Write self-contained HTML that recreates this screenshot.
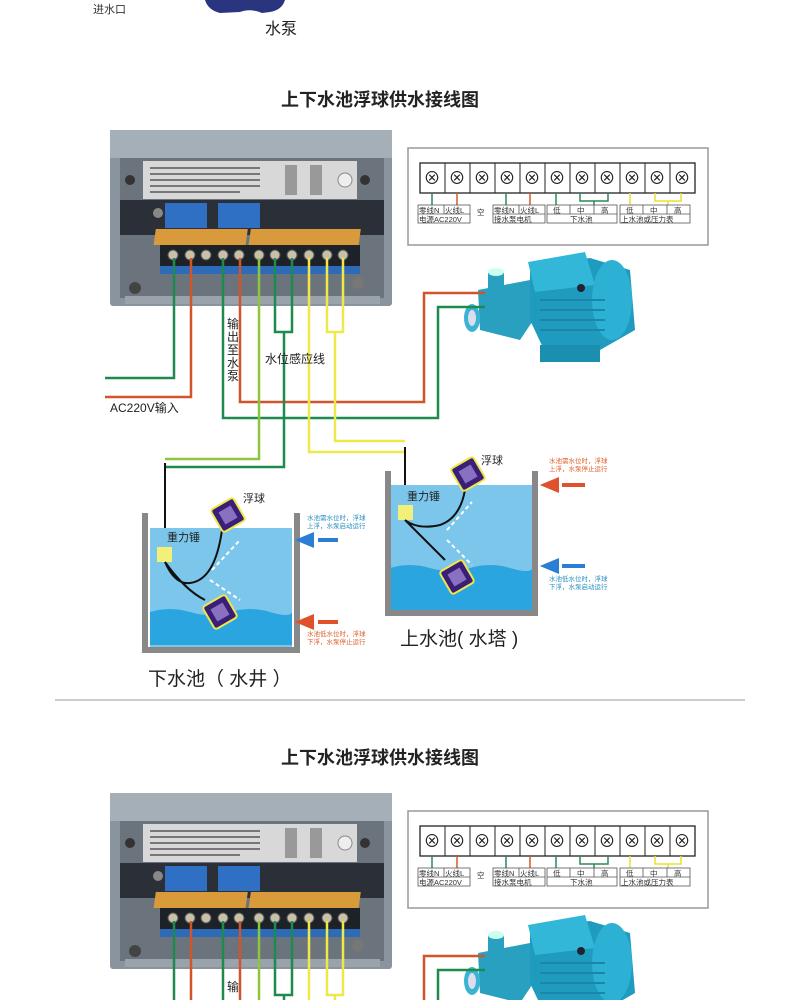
<!DOCTYPE html>
<html><head><meta charset="utf-8"><style>
html,body{margin:0;padding:0;background:#fff;width:800px;height:1000px;overflow:hidden}
svg{display:block;overflow:hidden}
text{font-family:"Liberation Sans","Noto Sans CJK SC",sans-serif}
</style></head><body>
<svg width="800" height="1000" viewBox="0 0 800 1000" xmlns="http://www.w3.org/2000/svg">
<rect width="800" height="1000" fill="#fff"/>
<path d="M205 0 H285 Q282 10 270 12 L262 13 Q250 8 240 12 L220 13 Q208 10 205 0Z" fill="#2a3580"/>
<text x="93" y="13" font-size="11" fill="#333">进水口</text>
<text x="265" y="34" font-size="16" fill="#222">水泵</text>

<defs>
<g id="ctrl">
  <rect x="110" y="130" width="282" height="176" fill="#8a949e" rx="3"/>
  <rect x="110" y="130" width="282" height="28" fill="#a5afb8"/>
  <rect x="120" y="158" width="264" height="140" fill="#6b747c"/>
  <rect x="143" y="161" width="214" height="38" fill="#d8d8d8"/>
  <g fill="#777">
  <rect x="150" y="167" width="110" height="2"/><rect x="150" y="173" width="110" height="2"/><rect x="150" y="179" width="110" height="2"/><rect x="150" y="185" width="110" height="2"/><rect x="150" y="191" width="90" height="2"/>
  </g>
  <rect x="285" y="165" width="12" height="30" fill="#999"/><rect x="310" y="165" width="12" height="30" fill="#999"/>
  <circle cx="345" cy="180" r="7" fill="#eee" stroke="#888"/>
  <rect x="120" y="200" width="264" height="35" fill="#2b3038"/>
  <rect x="165" y="203" width="42" height="25" fill="#2f6fc4"/><rect x="218" y="203" width="42" height="25" fill="#2f6fc4"/>
  <circle cx="158" cy="213" r="5" fill="#888"/>
  <rect x="158" y="229" width="92" height="16" fill="#d89a3a" transform="skewX(-8) translate(30 0)"/>
  <rect x="253" y="229" width="110" height="16" fill="#d89a3a" transform="skewX(-8) translate(30 0)"/>
  <rect x="160" y="245" width="200" height="22" fill="#1d2228"/>
  <g fill="#c9c0a8" stroke="#555" stroke-width="1">
   <circle cx="173" cy="255" r="5"/><circle cx="190" cy="255" r="5"/><circle cx="206" cy="255" r="5"/><circle cx="223" cy="255" r="5"/><circle cx="239" cy="255" r="5"/><circle cx="259" cy="255" r="5"/><circle cx="275" cy="255" r="5"/><circle cx="292" cy="255" r="5"/><circle cx="309" cy="255" r="5"/><circle cx="327" cy="255" r="5"/><circle cx="343" cy="255" r="5"/>
  </g>
  <rect x="160" y="266" width="200" height="8" fill="#2d6ab8"/>
  <circle cx="130" cy="180" r="5" fill="#333"/><circle cx="365" cy="180" r="5" fill="#333"/>
  <circle cx="135" cy="288" r="6" fill="#444"/><circle cx="358" cy="283" r="6" fill="#777"/>
  <rect x="125" y="296" width="255" height="8" fill="#9aa3ab"/>
  <rect x="408" y="148" width="300" height="97" fill="#fff" stroke="#999" stroke-width="1.5"/>
  <rect x="420" y="163" width="275" height="30" fill="#fff" stroke="#222" stroke-width="1.3"/>
  <path d="M445 163V193M470 163V193M495 163V193M520 163V193M545 163V193M570 163V193M595 163V193M620 163V193M645 163V193M670 163V193" stroke="#222" stroke-width="1" fill="none"/>
  <g font-size="17" fill="#222" text-anchor="middle">
   <text x="432" y="184">⊗</text><text x="457" y="184">⊗</text><text x="482" y="184">⊗</text><text x="507" y="184">⊗</text><text x="532" y="184">⊗</text><text x="557" y="184">⊗</text><text x="582" y="184">⊗</text><text x="607" y="184">⊗</text><text x="632" y="184">⊗</text><text x="657" y="184">⊗</text><text x="682" y="184">⊗</text>
  </g>
  <g stroke-width="1.5" fill="none">
   <path d="M432 193V205M506 193V205M556 193V205" stroke="#2a8a55"/>
   <path d="M457 193V205M530 193V205" stroke="#d05a2a"/>
   <path d="M580 193V201H608V193M594 201V205" stroke="#2a8a55"/>
   <path d="M630 193V205" stroke="#e8e030"/>
   <path d="M655 193V201H681V193M668 201V205" stroke="#e8e030"/>
  </g>
  <g fill="none" stroke="#555" stroke-width="0.8">
   <rect x="418" y="205" width="52" height="18"/><path d="M418 214H470M444 205V214"/>
   <rect x="493" y="205" width="52" height="18"/><path d="M493 214H545M519 205V214"/>
   <rect x="547" y="205" width="70" height="18"/><path d="M547 214H617M570 205V214M594 205V214"/>
   <rect x="620" y="205" width="70" height="18"/><path d="M620 214H690M643 205V214M667 205V214"/>
  </g>
  <g font-size="7.5" fill="#333">
   <text x="419" y="213">零线N</text><text x="445" y="213">火线L</text><text x="419" y="222">电源AC220V</text>
   <text x="477" y="215">空</text>
   <text x="494" y="213">零线N</text><text x="520" y="213">火线L</text><text x="494" y="222">接水泵电机</text>
   <text x="553" y="213">低</text><text x="577" y="213">中</text><text x="601" y="213">高</text><text x="570" y="222">下水池</text>
   <text x="626" y="213">低</text><text x="650" y="213">中</text><text x="674" y="213">高</text><text x="621" y="222">上水池或压力表</text>
  </g>
  <g>
   <path d="M478 290 L530 280 L540 310 L520 340 L480 330Z" fill="#2aa0c0"/>
   <ellipse cx="472" cy="318" rx="8" ry="14" fill="#3bb4d4"/><ellipse cx="472" cy="318" rx="4" ry="8" fill="#dde"/>
   <rect x="488" y="272" width="16" height="20" fill="#2aa0c0"/><ellipse cx="496" cy="272" rx="8" ry="4" fill="#cfe"/>
   <path d="M530 265 L590 258 L630 270 L635 330 L600 350 L545 352 L530 320Z" fill="#1f9bc0"/>
   <path d="M528 262 L585 252 L595 285 L535 292Z" fill="#33b7d8"/>
   <ellipse cx="612" cy="300" rx="20" ry="40" fill="#2cb0d4"/>
   <path d="M540 345 L600 345 L600 362 L540 362Z" fill="#1b8fb0"/>
   <circle cx="581" cy="288" r="4" fill="#223"/>
   <path d="M540 300H605M540 310H605M540 320H605M540 330H605" stroke="#1a86a8" stroke-width="2"/>
  </g>
</g>
</defs>

<text x="380" y="106" font-size="18" font-weight="bold" fill="#222" text-anchor="middle">上下水池浮球供水接线图</text>
<use href="#ctrl"/>
<g fill="none" stroke-width="2.5">
 <path d="M174 258V378H105" stroke="#1f8a50"/>
 <path d="M191 258V397H105" stroke="#d2542a"/>
 <path d="M223 258V418H438V307H485" stroke="#1f8a50"/>
 <path d="M240 258V402H424V293H485" stroke="#d2542a"/>
 <path d="M259 258V459H165" stroke="#8cc63e"/>
 <path d="M275 258V332H292V258M284 332V467H165" stroke="#1f8a50"/>
 <path d="M309 258V452H405" stroke="#eee84a"/>
 <path d="M327 258V332H343V258M335 332V441H405" stroke="#eee84a"/>
</g>
<path d="M165 463V548M405 447V510" stroke="#111" stroke-width="2" fill="none"/>
<text x="110" y="412" font-size="12" fill="#222">AC220V输入</text>
<g font-size="12" fill="#222"><text x="227" y="328">输</text><text x="227" y="341">出</text><text x="227" y="354">至</text><text x="227" y="367">水</text><text x="227" y="380">泵</text></g>
<text x="265" y="363" font-size="12" fill="#222">水位感应线</text>

<rect x="150" y="528" width="142" height="120" fill="#7cc6ec"/>
<path d="M150 612 Q170 606 190 612 T230 612 T270 612 T292 612 V645 H150Z" fill="#2aa5e0"/>
<path d="M145 513V650H297V513" fill="none" stroke="#888" stroke-width="6"/>
<rect x="157" y="547" width="15" height="15" fill="#f3f07a"/>
<path d="M165 562 Q175 585 190 583 Q215 580 222 530 M165 562 Q185 590 205 600" stroke="#111" stroke-width="2" fill="none"/>
<g transform="rotate(-30 228 515)"><rect x="215" y="502" width="26" height="26" rx="3" fill="#3a1f78" stroke="#f0e84a" stroke-width="2"/><rect x="221" y="508" width="14" height="14" fill="#8a70c0"/></g>
<g transform="rotate(-30 220 612)"><rect x="207" y="599" width="26" height="26" rx="3" fill="#3a1f78" stroke="#f0e84a" stroke-width="2"/><rect x="213" y="605" width="14" height="14" fill="#8a70c0"/></g>
<path d="M212 570L240 540M210 580L240 600" stroke="#fff" stroke-width="2" stroke-dasharray="4 3"/>
<text x="243" y="502" font-size="11" fill="#222">浮球</text>
<text x="167" y="541" font-size="11" fill="#222">重力锤</text>
<path d="M318 540H338M300 540L312 535V545Z" stroke="#2a7fd4" stroke-width="4" fill="#2a7fd4"/>
<path d="M318 622H338M300 622L312 617V627Z" stroke="#e0502a" stroke-width="4" fill="#e0502a"/>
<text x="307" y="520" font-size="6.5" fill="#2a90c0">水池需水位时，浮球</text><text x="307" y="528" font-size="6.5" fill="#2a90c0">上浮，水泵启动运行</text>
<text x="307" y="636" font-size="6.5" fill="#e0602a">水池低水位时，浮球</text><text x="307" y="644" font-size="6.5" fill="#e0602a">下浮，水泵停止运行</text>
<text x="148" y="685" font-size="19" fill="#222">下水池（ 水井 ）</text>

<rect x="390" y="485" width="143" height="127" fill="#7cc6ec"/>
<path d="M390 568 Q410 562 430 568 T470 568 T510 568 T533 568 V612 H390Z" fill="#2aa5e0"/>
<path d="M388 471V613H535V471" fill="none" stroke="#888" stroke-width="6"/>
<rect x="398" y="505" width="15" height="15" fill="#f3f07a"/>
<path d="M405 520 Q418 530 440 525 Q460 518 465 490 M405 520 Q430 545 445 560" stroke="#111" stroke-width="2" fill="none"/>
<g transform="rotate(-30 468 474)"><rect x="455" y="461" width="26" height="26" rx="3" fill="#3a1f78" stroke="#f0e84a" stroke-width="2"/><rect x="461" y="467" width="14" height="14" fill="#8a70c0"/></g>
<g transform="rotate(-30 457 577)"><rect x="444" y="564" width="26" height="26" rx="3" fill="#3a1f78" stroke="#f0e84a" stroke-width="2"/><rect x="450" y="570" width="14" height="14" fill="#8a70c0"/></g>
<path d="M447 530L472 502M447 540L472 565" stroke="#fff" stroke-width="2" stroke-dasharray="4 3"/>
<text x="481" y="464" font-size="11" fill="#222">浮球</text>
<text x="407" y="500" font-size="11" fill="#222">重力锤</text>
<path d="M562 485H585M545 485L557 480V490Z" stroke="#e0502a" stroke-width="4" fill="#e0502a"/>
<path d="M562 566H585M545 566L557 561V571Z" stroke="#2a7fd4" stroke-width="4" fill="#2a7fd4"/>
<text x="549" y="463" font-size="6.5" fill="#e0602a">水池需水位时，浮球</text><text x="549" y="471" font-size="6.5" fill="#e0602a">上浮，水泵停止运行</text>
<text x="549" y="581" font-size="6.5" fill="#2a90c0">水池低水位时，浮球</text><text x="549" y="589" font-size="6.5" fill="#2a90c0">下浮，水泵启动运行</text>
<text x="400" y="645" font-size="19" fill="#222">上水池( 水塔 )</text>

<path d="M55 700H745" stroke="#ccc" stroke-width="2"/>

<text x="380" y="764" font-size="18" font-weight="bold" fill="#222" text-anchor="middle">上下水池浮球供水接线图</text>
<svg x="0" y="663" width="800" height="337" viewBox="0 0 800 337" overflow="hidden">
 <use href="#ctrl"/>
 <g fill="none" stroke-width="2.5">
  <path d="M174 258V337" stroke="#1f8a50"/>
  <path d="M191 258V337" stroke="#d2542a"/>
  <path d="M223 258V337M438 337V307H485" stroke="#1f8a50"/>
  <path d="M240 258V337M424 337V293H485" stroke="#d2542a"/>
  <path d="M259 258V337" stroke="#8cc63e"/>
  <path d="M275 258V332H292V258M284 332V337" stroke="#1f8a50"/>
  <path d="M309 258V337" stroke="#eee84a"/>
  <path d="M327 258V332H343V258M335 332V337" stroke="#eee84a"/>
 </g>
 <text x="227" y="328" font-size="12" fill="#222">输</text>
</svg>
</svg>
</body></html>
